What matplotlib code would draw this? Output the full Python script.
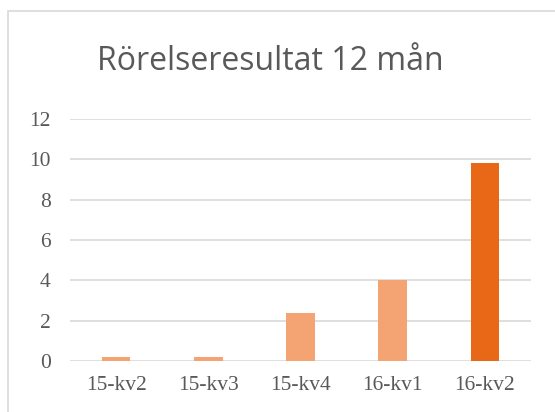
import matplotlib.pyplot as plt
from matplotlib.patches import Rectangle

# Data
quarters = ['15-kv2', '15-kv3', '15-kv4', '16-kv1', '16-kv2']
result = [0.2, 0.2, 2.4, 4.0, 9.8]
bar_colors = ['#F4A373', '#F4A373', '#F4A373', '#F4A373', '#E86818']
y_ticks = [0, 2, 4, 6, 8, 10, 12]

fig = plt.figure(figsize=(5.55, 4.12), dpi=100)
ax = fig.add_axes([70 / 555, 1 - 361 / 412, 461 / 555, 242 / 412])

# outer chart border (cut off on right and bottom)
fig.patches.append(Rectangle((8 / 555, -0.1), 1.2, 1 - 11 / 412 + 0.1,
                             transform=fig.transFigure, fill=False,
                             edgecolor='#D9D9D9', linewidth=1.2))

x = range(len(quarters))
ax.bar(x, result, width=0.31, color=bar_colors, zorder=3)

ax.set_xlim(-0.5, len(quarters) - 0.5)
ax.set_ylim(0, 12)
ax.set_yticks(y_ticks)
ax.set_xticks(list(x))
ax.set_xticklabels(quarters)
ax.grid(axis='y', color='#D9D9D9', linewidth=1.2, zorder=0)
ax.tick_params(length=0, labelsize=15.5, labelcolor='#595959')
ax.tick_params(axis='y', pad=14)
ax.tick_params(axis='x', pad=11)
for lab in ax.get_xticklabels() + ax.get_yticklabels():
    lab.set_fontfamily('Liberation Serif')
for s in ax.spines.values():
    s.set_visible(False)

fig.text(270 / 555, 1 - 62 / 412, 'Rörelseresultat 12 mån', ha='center', va='center',
         fontsize=23, color='#595959', fontfamily='Open Sans')

fig.savefig('out.png', dpi=100)
